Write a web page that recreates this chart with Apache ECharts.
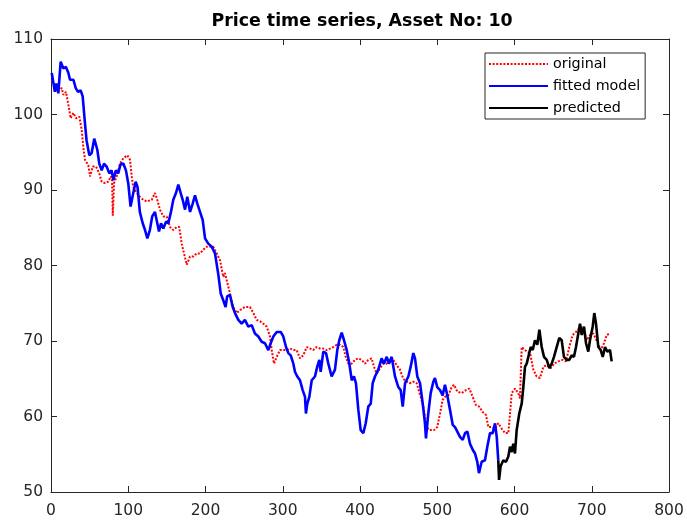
<!DOCTYPE html>
<html>
<head>
<meta charset="utf-8">
<script src="https://cdn.jsdelivr.net/npm/echarts@6/dist/echarts.min.js"></script>
<style>
html,body{margin:0;padding:0;background:#fff;}
#chart{width:687px;height:522px;}
</style>
</head>
<body>
<div id="chart"></div>
<script>
var chartTitle = 'Price time series, Asset No: 10';
var seriesNames = ['original', 'fitted model', 'predicted'];
var xTicks = [0, 100, 200, 300, 400, 500, 600, 700, 800];
var yTicks = [50, 60, 70, 80, 90, 100, 110];

var originalX = [1,9.5,13.9,16,19.4,22.5,25.5,29,32.4,36.7,39.7,41.8,44,48.3,50.5,54,58.3,62.5,65.6,70,74.2,77.3,79,80,81.6,85,89.3,93.6,98.8,102.3,104.5,106.5,111,115,119.5,123.9,130.4,134.6,137.6,141,145.4,149.8,154,158.3,162.7,166,169.2,172.2,175.7,180,184.2,188.6,192.9,197.2,201.6,205.8,210,214.5,218.8,223,225.2,229.5,232.6,236,240.4,244.7,251,257.6,261.9,266.3,270.6,274.8,279.2,283.5,285.7,288.7,292.2,296.4,300.7,305,309.4,313.7,318,322.3,326.6,331,335.3,339.5,343.9,348.2,352.5,356.9,361.2,365.4,369.8,374.1,378.4,381.5,384.9,389.3,393.5,397.8,402.2,406.5,410.7,415.1,418.1,421.6,425.9,430.2,434.6,438.8,443.1,447.5,451.8,456,460.5,464.7,469,473.4,476.8,478.6,482,486.3,489.7,495.8,500,503.6,507,510,514.3,518.7,521.7,526,531.7,537.2,541.5,545.9,550.2,554.4,558.8,563.1,566.1,570.5,574.8,579,583.4,587.7,592,594.2,596.4,600.6,604.9,607.1,609.3,611.4,615.8,620.1,624.4,628.7,633,637.4,641.7,646.9,651.1,656.7,662.4,666.7,670.9,675.3,679.6,683.9,688.3,693.5,697.7,702,707.2,711.6,715.9,719.4,723.6];
var originalY = [104.5,103.2,103.5,102.6,103.0,101.3,99.5,100.2,99.5,99.7,98.0,95.7,94.0,93.3,91.8,93.1,93.1,92.2,91.1,90.9,91.1,91.8,91.5,86.6,90.9,91.8,93.5,94.2,94.6,94.0,91.8,90.4,89.6,89.1,88.7,88.5,88.7,89.6,88.7,87.4,86.5,86.5,85.1,84.7,85.1,85.1,82.9,81.6,80.1,81.2,81.2,81.6,81.6,82.1,82.5,82.5,82.5,81.6,80.7,78.5,79.0,77.2,75.9,74.5,73.7,74.1,74.5,74.5,73.7,72.8,72.6,72.3,71.9,70.6,68.8,67.0,67.9,68.8,68.8,68.8,69.0,68.8,68.8,67.7,68.1,69.2,69.0,68.8,69.2,69.0,69.0,68.8,69.0,69.2,69.5,69.5,69.2,67.9,67.0,67.0,67.5,67.7,67.5,67.0,67.5,67.7,66.6,65.7,66.4,67.0,67.0,67.7,67.5,66.8,66.2,65.0,64.6,64.4,64.6,64.4,63.2,62.6,61.3,58.6,58.2,58.2,58.6,60.4,62.2,62.6,62.8,63.9,64.2,63.3,63.1,63.5,63.7,62.6,61.5,61.3,60.6,60.2,58.6,58.6,58.4,59.1,58.4,57.8,57.8,60.4,63.1,63.7,63.1,62.4,69.2,69.0,68.6,68.4,66.2,65.3,65.1,66.6,66.8,66.4,67.0,67.3,67.5,67.3,69.2,70.8,71.2,71.7,71.9,70.1,70.8,71.0,69.9,68.8,69.7,70.8,71.0];

var fittedX = [1,5,7,9.5,12.5,16,19.4,22.5,24.6,29,32,35,38.4,41,44,46,49.6,52.6,56,60,62.5,65.6,68.6,72,75.5,78.5,80.7,84,87,90,93.6,97,100,103,106.5,109.6,112,115,118.7,121.7,124.7,128,131,134.6,137.6,139.8,142.4,145.4,148.9,151.9,155.3,158.3,161.8,164.8,167.9,170.5,173.5,176.4,180,183.4,186.4,189.4,192.9,196.4,199.4,203.6,208,212.3,216.6,219.7,223,226,228,231.7,235.2,238.2,242.5,246.8,251,255.4,259.8,264,268.4,272.7,277,281.3,284.4,287.8,292.2,297.3,300.7,304.2,307.2,310.3,313.7,315.9,318.8,322.3,325.8,328.8,330,331.8,334.4,337.5,341.7,344.7,347.3,349.1,352.5,356,359,363.3,367.6,370.6,373.2,376.3,379.3,382.8,386.2,389.3,392.2,394.8,397.8,400.9,404.3,407.4,410.7,413.9,416.4,419.4,423.7,428,431,434.6,437.5,441,445.3,449.6,452.7,455.3,458.3,462.6,465.6,469,471.2,474.2,477.7,481.2,484.1,485.4,488.4,491.5,494.9,497,500,503.6,507,510,513,516.5,520,523,526,529.4,533,536,539,542.4,545.9,548.9,551.8,554,557.5,561.8,564.8,568.3,571.8,574.8,577,579];
var fittedY = [105.5,103.0,104.1,102.8,107.0,106.1,106.3,105.5,104.6,104.6,103.5,103.0,103.2,102.4,98.8,96.6,94.6,94.9,96.8,95.3,93.5,92.6,93.5,93.1,92.2,92.6,91.3,92.6,92.2,93.4,93.5,92.6,90.9,87.8,89.6,91.1,90.4,87.1,85.6,84.7,83.6,84.7,86.5,87.1,85.6,84.5,85.6,84.9,85.8,85.6,87.1,88.7,89.6,90.7,89.6,88.7,87.4,89.1,87.1,88.2,89.3,88.2,87.1,86.0,83.6,82.9,82.5,81.6,78.8,76.3,75.4,74.5,75.9,76.1,74.5,73.7,72.8,72.3,72.8,71.9,72.1,71.0,70.6,69.9,69.7,68.8,69.7,70.6,71.2,71.2,70.6,69.2,68.4,68.1,67.0,65.9,65.3,64.8,63.5,62.6,60.4,61.7,62.6,64.8,65.3,66.6,67.5,65.9,68.6,68.4,67.0,65.3,66.2,68.8,70.1,71.1,70.1,68.8,67.0,64.8,65.3,64.4,60.9,58.2,57.8,59.1,61.3,61.7,64.4,65.3,66.2,67.7,67.0,67.9,67.0,67.9,65.3,63.9,63.5,61.3,64.4,65.3,66.6,68.4,67.7,65.3,64.4,61.7,59.1,57.1,60.4,63.1,64.6,65.1,63.9,63.5,62.8,64.2,62.8,60.9,58.9,58.6,58.0,57.3,56.9,57.8,58.0,56.4,55.6,55.1,54.0,52.5,54.0,54.2,56.0,57.8,57.8,59.1,57.3,54.2];

var predictedX = [579,580,582,585.5,589,592,594.2,596.4,598.4,600.6,602.8,606.2,609.3,611.4,613.6,615.8,617.9,621,623.6,626.5,629.5,632.2,635.2,638.2,641.7,645.1,648.2,651.1,654.6,658,661.1,664,667.6,670.9,674,677,679.6,682.6,684.8,687,690,692.6,695.5,697.7,701.2,703.3,705.5,708.5,711.6,714.2,717.2,720.1,723.6,725.8];
var predictedY = [54.2,51.6,53.4,54.2,54.0,54.7,56.0,55.3,56.4,55.1,58.2,60.4,61.7,63.9,66.6,67.0,67.9,69.2,68.8,70.1,69.5,71.5,69.2,67.9,67.5,66.4,67.0,67.9,69.2,70.4,70.1,67.9,67.5,67.5,68.1,67.9,69.2,71.0,72.3,70.8,71.9,69.7,68.6,70.1,71.9,73.7,72.3,69.2,68.8,67.9,69.2,68.6,68.8,67.3];

function zip(xs, ys) { return xs.map(function (x, i) { return [x, ys[i]]; }); }

var axisColor = '#262626';
var fontFam = '"DejaVu Sans", Verdana, sans-serif';

function makeX(pos, showLabel) {
  return {
    type: 'value', position: pos, min: xTicks[0], max: xTicks[xTicks.length - 1], interval: 100,
    axisLine: { show: true, onZero: false, lineStyle: { color: axisColor, width: 1 } },
    axisTick: { show: true, inside: true, length: 6, lineStyle: { color: axisColor } },
    axisLabel: { show: showLabel, color: axisColor, fontSize: 15.5, fontFamily: fontFam, margin: 11 },
    splitLine: { show: false }
  };
}
function makeY(pos, showLabel) {
  return {
    type: 'value', position: pos, min: yTicks[0], max: yTicks[yTicks.length - 1], interval: 10,
    axisLine: { show: true, onZero: false, lineStyle: { color: axisColor, width: 1 } },
    axisTick: { show: true, inside: true, length: 6, lineStyle: { color: axisColor } },
    axisLabel: { show: showLabel, color: axisColor, fontSize: 15.5, fontFamily: fontFam, margin: 8 },
    splitLine: { show: false }
  };
}

var chart = echarts.init(document.getElementById('chart'), null, { renderer: 'canvas' });
chart.setOption({
  backgroundColor: '#ffffff',
  animation: false,
  title: {
    text: chartTitle, left: 357, top: 8, textAlign: 'center',
    textStyle: { fontSize: 17.4, fontWeight: 'bold', color: '#000', fontFamily: fontFam }
  },
  grid: { left: 51, right: 18, top: 39, bottom: 30, containLabel: false },
  xAxis: [makeX('bottom', true), makeX('top', false)],
  yAxis: [makeY('left', true), makeY('right', false)],
  legend: {
    orient: 'vertical', left: 485, top: 53,
    data: seriesNames,
    itemWidth: 59, itemHeight: 14, itemGap: 4, padding: [2, 5, 2, 3],
    borderColor: '#262626', borderWidth: 1, backgroundColor: '#ffffff', borderRadius: 0,
    textStyle: { fontSize: 14.3, color: '#000', fontFamily: fontFam, lineHeight: 18, padding: [0, 0, 0, 0] },
    itemStyle: { opacity: 0 }
  },
  series: [
    {
      name: seriesNames[0], type: 'line', data: zip(originalX, originalY),
      showSymbol: false, symbol: 'none',
      lineStyle: { color: '#ff0000', width: 2, type: [2, 1.6] },
      itemStyle: { color: '#ff0000' }, z: 2
    },
    {
      name: seriesNames[1], type: 'line', data: zip(fittedX, fittedY),
      showSymbol: false, symbol: 'none',
      lineStyle: { color: '#0000ff', width: 2.6 },
      itemStyle: { color: '#0000ff' }, z: 3
    },
    {
      name: seriesNames[2], type: 'line', data: zip(predictedX, predictedY),
      showSymbol: false, symbol: 'none',
      lineStyle: { color: '#000000', width: 2.6 },
      itemStyle: { color: '#000000' }, z: 4
    }
  ]
});
</script>
</body>
</html>
